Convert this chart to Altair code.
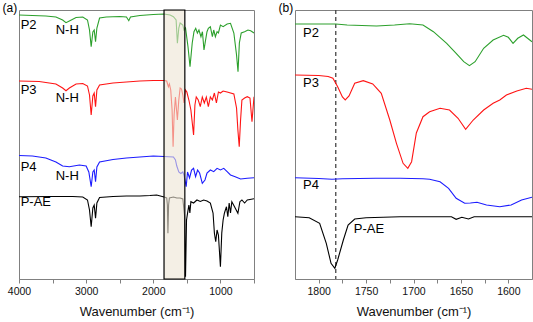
import altair as alt
import pandas as pd

FONT = "Liberation Sans"

SAMPLES = ["P2", "P3", "P4", "P-AE"]
COLORS = ["#2ca02c", "#ff1414", "#1c1cff", "#000000"]

# ---- (a) full-range spectra: wavenumber (cm-1) and stacked transmittance (a.u.)
P2_A_WN = [4000, 3800, 3600, 3450, 3350, 3300, 3250, 3150, 3050, 2980,
           2950, 2925, 2900, 2880, 2860, 2840, 2800, 2700, 2500, 2400,
           2365, 2340, 2200, 2000, 1840, 1750, 1700, 1660, 1641, 1620,
           1600, 1560, 1543, 1520, 1483, 1453, 1420, 1394, 1368, 1343,
           1320, 1290, 1268, 1245, 1225, 1200, 1180, 1150, 1120, 1100,
           1075, 1050, 1030, 1000, 960, 900, 850, 800, 760, 738,
           718, 690, 640, 590, 550, 500]
P2_A_T = [264, 263.5, 263, 262, 259, 256.3, 258, 261.5, 262, 259,
          249, 232.3, 247, 249, 237.3, 251, 261, 262, 262.5, 262,
          258.3, 262, 263.5, 264.5, 265, 264, 262.3, 259, 235.7, 251,
          256, 254, 249, 251, 232.3, 212.3, 236, 247.3, 250.7, 246,
          249, 242.3, 247.3, 229, 237.3, 247.3, 250.7, 252.3, 242.3, 249,
          242.3, 247.3, 246, 254, 252.3, 255, 255.7, 246, 224, 207.3,
          236, 246, 247.3, 249, 248.3, 246]

P3_A_WN = [4000, 3700, 3450, 3350, 3300, 3250, 3150, 3050, 2980, 2950,
           2925, 2900, 2880, 2860, 2840, 2800, 2600, 2400, 2200, 2000,
           1840, 1800, 1775, 1760, 1740, 1720, 1705, 1690, 1670, 1641,
           1620, 1600, 1580, 1560, 1543, 1520, 1500, 1470, 1440, 1400,
           1380, 1360, 1330, 1300, 1270, 1240, 1210, 1180, 1150, 1120,
           1090, 1060, 1030, 1000, 960, 900, 800, 760, 740, 720,
           700, 680, 640, 600, 560, 530, 500]
P3_A_T = [198, 197.5, 195, 191, 188.3, 191, 195, 195.5, 193, 184,
          164, 183, 186, 172.3, 189, 194, 196, 197, 198, 198.5,
          198.5, 198, 192.3, 195, 189, 169, 132.3, 164, 182, 159,
          179, 191, 190, 184, 176, 189, 187, 179, 169, 144,
          174, 182, 179, 172.3, 182, 176, 182, 172.3, 182, 179,
          186, 176, 187, 186, 188, 187, 185, 171, 149, 132.3,
          159, 179, 181, 182.3, 181, 157.3, 182.3]

P4_A_WN = [4000, 3800, 3600, 3450, 3350, 3250, 3100, 3000, 2960, 2925,
           2900, 2880, 2860, 2840, 2800, 2600, 2400, 2200, 2000, 1840,
           1700, 1670, 1650, 1620, 1590, 1560, 1543, 1510, 1490, 1460,
           1430, 1400, 1370, 1340, 1310, 1270, 1230, 1200, 1150, 1100,
           1050, 1000, 950, 900, 850, 780, 700, 600, 500]
P4_A_T = [123.5, 123, 121, 117, 113, 112.3, 114, 113, 107, 92.3,
          107, 109, 97.3, 112, 117, 119.5, 121, 122, 123, 122.5,
          122, 119, 113, 107, 105.5, 107, 104, 92.3, 107, 101,
          109, 110.7, 102.3, 109, 106, 95.7, 99, 106, 109, 107.3,
          110.7, 109, 110.7, 107.3, 104, 102.3, 100, 100.7, 101.3]

PAE_A_WN = [4000, 3500, 3200, 3050, 2980, 2950, 2925, 2900, 2880, 2860,
            2840, 2800, 2600, 2400, 2200, 2050, 1950, 1840, 1800, 1790,
            1782, 1772, 1760, 1700, 1650, 1600, 1560, 1535, 1520, 1505,
            1490, 1470, 1455, 1440, 1400, 1350, 1300, 1250, 1200, 1150,
            1110, 1090, 1070, 1050, 1030, 1000, 980, 960, 940, 910,
            890, 870, 850, 830, 790, 740, 710, 680, 640, 600,
            560, 500]
PAE_A_T = [82.3, 82.5, 82.5, 82, 79, 69, 52.3, 71, 74, 60.7,
           76, 81.5, 82.5, 83, 83, 83.5, 84, 82, 81, 74,
           45.7, 74, 81, 82, 81, 81, 80, 64, 2.3, 59,
           65.7, 74, 66, 77.3, 76, 79, 77.5, 79, 78, 76,
           66, 46, 37.3, 49, 44, 12.3, 46, 59, 66, 72.3,
           62.3, 76, 66, 77.3, 72.3, 65.7, 77.3, 79, 76, 79,
           79.5, 80.3]

# ---- (b) carbonyl region
P2_B_WN = [1825, 1800, 1782, 1770, 1739, 1720, 1704, 1690, 1679, 1665,
           1655, 1647, 1641, 1635, 1626, 1616, 1605, 1600, 1595, 1590,
           1584, 1575]
P2_B_T = [255, 255, 255, 254, 253, 254, 255.3, 254, 247.3, 235.7,
          225.7, 217.3, 213.3, 217.3, 230.7, 239, 243.7, 241.7, 235.7, 240.7,
          244, 237.3]

P3_B_WN = [1825, 1800, 1790, 1785, 1780, 1775, 1772, 1768, 1762, 1753,
           1743, 1734, 1725, 1718, 1711, 1706, 1702, 1697, 1690, 1683,
           1672, 1662, 1653, 1645, 1637, 1626, 1616, 1609, 1602, 1591,
           1581, 1575]
P3_B_T = [204, 203.5, 202.5, 200.7, 192.3, 182, 179, 183, 195.7, 198.3,
          195, 185.7, 159, 135.7, 115.7, 110.7, 117.3, 146, 162.3, 167.3,
          170.7, 169, 160.7, 149.7, 159, 169, 175.7, 179, 184, 188,
          190.7, 189.7]

P4_B_WN = [1825, 1800, 1786, 1775, 1740, 1714, 1690, 1683, 1672, 1663,
           1655, 1646, 1640, 1633, 1623, 1609, 1597, 1586, 1575]
P4_B_T = [101.3, 100.5, 99.7, 100.3, 100.7, 100.7, 100.2, 99.7, 97.3, 90.7,
          80.7, 75.7, 76, 76.7, 74, 72.3, 74, 79, 81.7]

PAE_B_WN = [1825, 1810, 1799, 1792, 1787, 1783, 1780, 1774, 1769, 1762,
            1750, 1714, 1660, 1655, 1649, 1642, 1636, 1600, 1575]
PAE_B_T = [62.3, 61.3, 55.7, 35.7, 15.7, 10.7, 19, 39, 54, 60,
           61.3, 62.3, 62.3, 59.7, 61.7, 60, 62.3, 62.3, 62.3]

T_RANGE = [0, 269]
ZOOM_WINDOW = [1530, 1840]   # shaded band in (a), expanded in (b)
CARBONATE_PEAK = 1782        # dashed marker in (b)

LABELS_A = [("P2", 3975, 254), ("N-H", 3453, 249), ("P3", 3975, 189),
            ("N-H", 3453, 181), ("P4", 3975, 112.3), ("N-H", 3453, 103),
            ("P-AE", 3975, 77.3)]
LABELS_B = [("P2", 1816.5, 246), ("P3", 1816.5, 195.7), ("P4", 1816.5, 94),
            ("P-AE", 1763, 50)]


def spectra(series):
    rows = []
    for name, wn, t in series:
        rows += [{"sample": name, "wn": w, "t": v} for w, v in zip(wn, t)]
    return pd.DataFrame(rows)


df_a = spectra([("P2", P2_A_WN, P2_A_T), ("P3", P3_A_WN, P3_A_T),
                ("P4", P4_A_WN, P4_A_T), ("P-AE", PAE_A_WN, PAE_A_T)])
df_b = spectra([("P2", P2_B_WN, P2_B_T), ("P3", P3_B_WN, P3_B_T),
                ("P4", P4_B_WN, P4_B_T), ("P-AE", PAE_B_WN, PAE_B_T)])
lab_a = pd.DataFrame(LABELS_A, columns=["label", "wn", "t"])
lab_b = pd.DataFrame(LABELS_B, columns=["label", "wn", "t"])

AXIS_TITLE = "Wavenumber (cm⁻¹)"

color = alt.Color("sample:N", scale=alt.Scale(domain=SAMPLES, range=COLORS), legend=None)
y_enc = alt.Y("t:Q", scale=alt.Scale(domain=T_RANGE, nice=False, zero=False), axis=None)

x_a = alt.X("wn:Q",
            scale=alt.Scale(domain=[500, 4000], reverse=True, nice=False, zero=False),
            axis=alt.Axis(values=list(range(4000, 499, -500)), format="d",
                          labelExpr="datum.value % 1000 == 0 ? datum.label : ''",
                          title=AXIS_TITLE))
x_b = alt.X("wn:Q",
            scale=alt.Scale(domain=[1575, 1825], reverse=True, nice=False, zero=False),
            axis=alt.Axis(values=list(range(1800, 1599, -25)), format="d",
                          labelExpr="datum.value % 50 == 0 ? datum.label : ''",
                          title=AXIS_TITLE))


def panel(df, labels, x, tag):
    lines = alt.Chart(df).mark_line(strokeWidth=1.1, clip=True).encode(
        x=x, y=y_enc, color=color, detail="sample:N", order="wn:Q")
    text = alt.Chart(labels).mark_text(
        align="left", baseline="middle", font=FONT, fontSize=13, color="#000"
    ).encode(x=x, y=y_enc, text="label:N")
    caption = alt.Chart(pd.DataFrame({"tag": [tag]})).mark_text(
        align="left", baseline="middle", font=FONT, fontSize=12, color="#000"
    ).encode(x=alt.value(-16.5), y=alt.value(-2), text="tag:N")
    return lines, text, caption


lines_a, text_a, cap_a = panel(df_a, lab_a, x_a, "(a)")
band = alt.Chart(pd.DataFrame({"wn": [ZOOM_WINDOW[0]], "wn_end": [ZOOM_WINDOW[1]],
                               "t": [T_RANGE[0]], "t_end": [T_RANGE[1]]})).mark_rect(
    fill="#ece5d3", fillOpacity=0.6, stroke="#000", strokeWidth=1.2
).encode(x=x_a, x2="wn_end:Q", y=y_enc, y2="t_end:Q")
chart_a = alt.layer(lines_a, band, text_a, cap_a).properties(width=235, height=269)

lines_b, text_b, cap_b = panel(df_b, lab_b, x_b, "(b)")
marker = alt.Chart(pd.DataFrame({"wn": [CARBONATE_PEAK]})).mark_rule(
    color="#444", strokeDash=[4, 3], strokeWidth=1.3
).encode(x=x_b)
chart_b = alt.layer(marker, lines_b, text_b, cap_b).properties(width=237, height=269)

chart = alt.hconcat(chart_a, chart_b, spacing=23).properties(
    padding={"left": 2, "top": 1, "right": 0, "bottom": 0}
).configure_view(
    stroke="#808080", strokeWidth=1
).configure_axis(
    domainColor="#808080", tickColor="#808080", tickSize=4, grid=False,
    labelFont=FONT, labelFontSize=10.5, labelColor="#111", labelPadding=3,
    labelFlush=False, labelOverlap=False,
    titleFont=FONT, titleFontSize=13, titleFontWeight="normal", titleColor="#111",
    titlePadding=9
)

chart.save("out.html", embed_options={"renderer": "svg", "actions": False})
